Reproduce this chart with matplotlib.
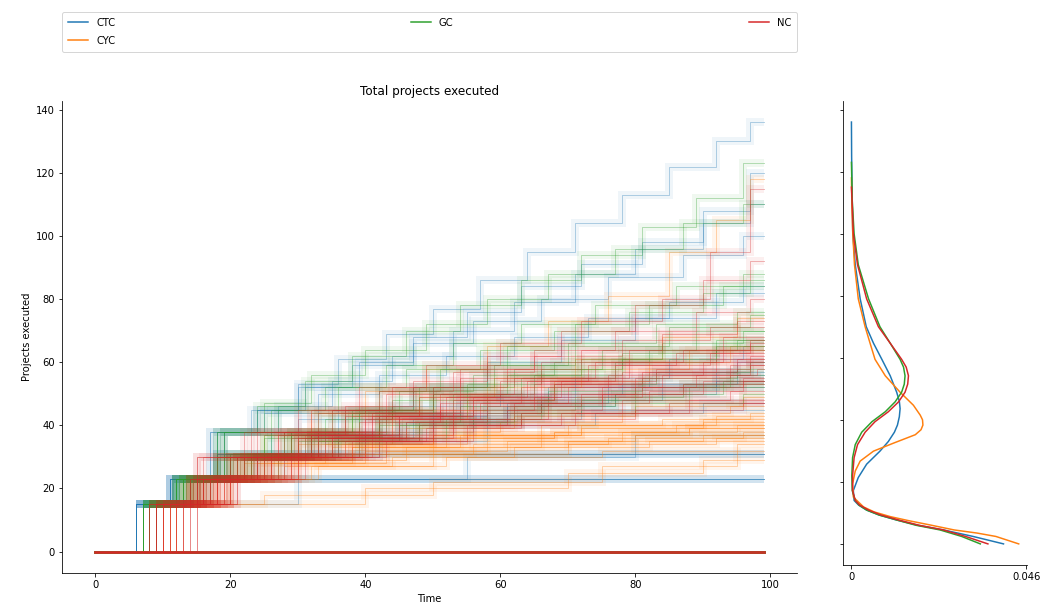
import matplotlib.pyplot as plt
import numpy as np

# one run = list of (time, projects executed after that step); runs start at 0 at t=0
t_end = 99

ctc_runs = [
    [(6, 15), (11, 23)],
    [(6, 15), (11, 23)],
    [(6, 15), (11, 23)],
    [(7, 15), (12, 23), (19, 31)],
    [(6, 15), (12, 23), (18, 31)],
    [(6, 15), (12, 23), (18, 31)],
    [(6, 15), (11, 23), (18, 38), (24, 45), (30, 53), (36, 61), (43, 69), (50, 77), (57, 86), (64, 95), (71, 104), (78, 113), (85, 122), (92, 130), (97, 136)],
    [(7, 15), (12, 23), (19, 38), (27, 46), (35, 54), (44, 62), (53, 70), (62, 79), (71, 88), (80, 96), (90, 104), (97, 110)],
    [(6, 15), (12, 23), (18, 31), (26, 38), (36, 45), (47, 52), (58, 60), (69, 67), (80, 74), (92, 82)],
    [(8, 15), (14, 23), (22, 30), (33, 37), (45, 43), (58, 49), (71, 55), (85, 61), (96, 65)],
    [(7, 15), (13, 23), (21, 30), (32, 36), (46, 41), (61, 46), (77, 50), (92, 54)],
    [(9, 15), (17, 23), (28, 30), (42, 35), (58, 40), (74, 44), (90, 47)],
    [(6, 15), (12, 23), (19, 38), (30, 42), (44, 46), (60, 50), (78, 53), (95, 56)],
    [(8, 15), (30, 23), (55, 30), (80, 37)],
    [(7, 15), (14, 23), (24, 30), (36, 38), (50, 44), (66, 48), (84, 52)],
    [(6, 15), (11, 23), (17, 38), (23, 45), (30, 52), (38, 59), (47, 66), (56, 73), (66, 80), (76, 87), (87, 94), (96, 100)],
    [(8, 15), (16, 23), (26, 31), (40, 38), (56, 42), (72, 45)],
    [(7, 15), (13, 23), (20, 30), (30, 37), (42, 43), (54, 48), (67, 52), (82, 57), (95, 60)],
    [(6, 15), (11, 23), (17, 38), (25, 44), (33, 50), (42, 56), (52, 62), (62, 68), (73, 74), (85, 79), (96, 84)],
    [(7, 15), (12, 23), (18, 38), (24, 45), (31, 52), (39, 60), (47, 68), (55, 76), (63, 84), (72, 91), (81, 98), (90, 108), (97, 120)],
    [(8, 15), (15, 23), (23, 30), (34, 36), (47, 42), (61, 47), (76, 52), (92, 57)],
    [], [], [], [], [],
]

cyc_runs = [
    [(9, 15), (14, 23), (22, 30), (34, 34), (50, 37), (70, 40), (90, 42)],
    [(10, 15), (16, 23), (26, 28), (40, 32), (58, 35), (78, 38), (95, 40)],
    [(8, 15), (13, 23), (20, 30), (30, 34), (44, 38), (60, 41), (78, 44), (94, 46)],
    [(11, 15), (40, 20), (70, 25), (90, 29)],
    [(9, 15), (15, 23), (24, 28), (38, 31), (56, 34), (76, 36), (96, 38)],
    [(12, 15), (18, 23), (28, 27), (44, 30), (62, 33), (82, 35)],
    [(8, 15), (14, 23), (21, 30), (30, 36), (42, 42), (55, 48), (68, 54), (82, 60), (94, 65)],
    [(10, 15), (17, 23), (27, 30), (40, 34), (55, 37), (72, 39), (90, 41)],
    [(9, 15), (15, 23), (23, 30), (33, 35), (46, 39), (62, 43), (80, 46), (96, 49)],
    [(8, 15), (13, 23), (19, 30), (25, 37), (32, 44), (40, 51), (49, 58), (58, 65), (67, 73), (76, 81), (85, 95), (92, 105), (97, 118)],
    [(13, 15), (20, 23), (32, 27), (50, 31), (70, 34), (92, 36)],
    [(11, 15), (18, 23), (30, 29), (46, 33), (66, 37), (88, 39)],
    [(9, 15), (16, 23), (25, 30), (38, 33), (52, 36), (68, 38), (86, 40)],
    [(10, 15), (25, 18), (50, 22), (75, 27), (95, 32)],
    [(8, 15), (14, 23), (22, 30), (32, 38), (44, 45), (58, 52), (72, 58), (88, 64)],
    [(12, 15), (19, 23), (29, 28), (43, 32), (61, 35), (80, 37)],
    [(9, 15), (15, 23), (23, 30), (35, 33), (50, 36), (68, 38), (88, 39)],
    [(10, 15), (16, 23), (25, 29), (38, 33), (54, 37), (72, 40), (92, 43)],
    [(11, 15), (17, 23), (26, 30), (37, 34), (50, 37), (66, 40), (84, 42), (97, 44)],
    [(8, 15), (14, 23), (22, 28), (34, 31), (50, 33), (70, 35), (90, 37)],
    [(12, 15), (20, 23), (33, 27), (52, 30), (75, 32), (95, 34)],
    [(9, 15), (14, 23), (21, 30), (29, 37), (38, 43), (48, 49), (59, 55), (71, 61), (84, 68), (95, 74)],
    [], [], [], [], [],
]

gc_runs = [
    [(7, 15), (12, 23), (18, 30), (25, 36), (34, 42), (44, 48), (55, 53), (66, 58), (78, 63), (92, 67)],
    [(8, 15), (14, 23), (21, 30), (29, 37), (39, 44), (50, 50), (61, 56), (72, 61), (84, 66), (96, 70)],
    [(7, 15), (13, 23), (19, 38), (27, 45), (36, 52), (46, 58), (57, 64), (68, 70), (79, 76), (90, 82), (97, 86)],
    [(8, 15), (15, 23), (23, 30), (33, 35), (45, 40), (58, 44), (72, 48), (88, 52)],
    [(7, 15), (12, 23), (18, 30), (26, 38), (35, 45), (45, 51), (56, 56), (68, 60), (82, 64), (95, 67)],
    [(9, 15), (16, 23), (25, 30), (36, 36), (48, 41), (62, 46), (77, 50), (93, 54)],
    [(7, 15), (12, 23), (18, 38), (24, 46), (31, 54), (38, 62), (46, 70), (54, 78), (63, 86), (72, 94), (81, 103), (89, 112), (96, 123)],
    [(8, 15), (14, 23), (22, 30), (32, 37), (43, 43), (55, 48), (68, 53), (83, 57), (97, 60)],
    [(7, 15), (13, 23), (20, 31), (29, 38), (39, 45), (50, 52), (62, 58), (75, 64), (89, 70)],
    [(8, 15), (15, 23), (24, 30), (35, 35), (48, 40), (63, 44), (80, 47), (96, 50)],
    [(9, 15), (17, 23), (27, 30), (39, 36), (52, 42), (66, 47), (80, 52), (94, 56)],
    [(7, 15), (12, 23), (18, 30), (25, 37), (33, 44), (42, 51), (51, 58), (61, 65), (71, 72), (82, 78), (93, 84)],
    [(8, 15), (14, 23), (22, 30), (31, 36), (42, 41), (54, 46), (67, 51), (81, 55), (95, 58)],
    [(7, 15), (13, 23), (20, 30), (30, 35), (42, 40), (56, 45), (71, 49), (87, 53)],
    [(7, 15), (12, 23), (19, 38), (26, 45), (34, 52), (43, 59), (53, 66), (63, 72), (74, 78), (86, 84), (96, 88)],
    [(8, 15), (13, 23), (20, 30), (28, 38), (37, 45), (47, 52), (58, 59), (70, 66), (83, 72), (95, 76)],
    [(7, 15), (12, 23), (18, 38), (25, 47), (32, 56), (40, 64), (49, 72), (58, 80), (67, 88), (77, 96), (87, 104), (96, 110)],
    [(9, 15), (15, 23), (23, 30), (32, 37), (42, 44), (53, 50), (65, 56), (78, 61), (92, 65)],
    [(8, 15), (14, 23), (21, 30), (29, 38), (38, 45), (48, 52), (59, 59), (71, 65), (85, 71), (97, 75)],
    [(7, 15), (13, 23), (20, 31), (28, 38), (38, 44), (50, 50), (63, 55), (77, 60), (92, 64)],
    [], [], [], [], [],
]

nc_runs = [
    [(8, 15), (15, 23), (22, 30), (30, 36), (40, 42), (51, 47), (63, 52), (76, 56), (90, 60)],
    [(9, 15), (16, 23), (23, 30), (32, 37), (42, 43), (53, 48), (65, 53), (78, 57), (92, 61)],
    [(10, 15), (17, 23), (25, 30), (34, 36), (45, 42), (57, 47), (70, 52), (84, 56), (97, 59)],
    [(11, 15), (18, 23), (26, 30), (36, 35), (48, 40), (61, 45), (75, 50), (90, 54)],
    [(12, 15), (18, 30), (27, 37), (37, 43), (48, 49), (60, 54), (73, 59), (86, 63), (97, 66)],
    [(13, 15), (19, 23), (28, 30), (38, 35), (50, 40), (63, 44), (78, 48), (94, 51)],
    [(14, 15), (20, 23), (30, 30), (42, 35), (55, 40), (69, 44), (85, 47)],
    [(15, 15), (21, 30), (30, 38), (40, 45), (50, 52), (61, 58), (72, 64), (84, 69), (95, 73)],
    [(9, 15), (15, 30), (23, 38), (32, 45), (42, 51), (53, 57), (65, 62), (78, 67), (91, 71)],
    [(10, 15), (16, 23), (24, 30), (33, 38), (43, 44), (54, 50), (66, 55), (79, 60), (93, 64)],
    [(8, 15), (14, 23), (20, 30), (28, 38), (37, 46), (47, 54), (58, 62), (69, 70), (80, 78), (90, 86), (97, 92)],
    [(11, 15), (17, 23), (25, 30), (35, 36), (46, 41), (58, 46), (72, 50), (87, 53)],
    [(12, 15), (19, 23), (29, 30), (40, 36), (53, 42), (67, 47), (82, 51), (96, 55)],
    [(9, 15), (15, 30), (22, 38), (30, 45), (39, 52), (49, 59), (60, 66), (72, 73), (84, 80), (91, 95), (97, 115)],
    [(13, 15), (20, 23), (30, 30), (41, 37), (53, 44), (66, 50), (80, 55), (94, 59)],
    [(10, 15), (16, 23), (24, 30), (33, 37), (44, 43), (56, 49), (69, 54), (83, 58), (97, 62)],
    [(8, 15), (14, 23), (21, 30), (29, 36), (39, 41), (51, 45), (65, 49), (81, 52), (96, 54)],
    [(11, 15), (17, 23), (24, 30), (32, 37), (41, 44), (51, 50), (62, 55), (74, 60), (87, 64), (97, 67)],
    [(9, 15), (15, 23), (22, 30), (31, 37), (41, 43), (52, 49), (64, 54), (77, 59), (91, 63)],
    [(12, 15), (18, 23), (27, 30), (37, 35), (49, 39), (63, 42), (80, 45), (96, 47)],
    [(10, 15), (16, 30), (24, 38), (33, 44), (43, 50), (54, 55), (66, 60), (79, 64), (93, 68)],
    [(14, 15), (20, 23), (29, 30), (39, 36), (50, 42), (62, 47), (75, 52), (89, 56), (98, 58)],
    [(13, 15), (18, 23), (26, 30), (35, 37), (45, 43), (56, 48), (68, 53), (81, 57), (95, 61)],
    [(9, 15), (14, 23), (20, 30), (27, 38), (35, 45), (44, 52), (54, 58), (65, 64), (77, 70), (89, 76), (97, 80)],
    [(15, 15), (21, 23), (31, 30), (43, 35), (56, 40), (71, 44), (88, 48)],
    [], [], [], [], [],
]

# density of the final count (x 1e-3)
ctc_kde_y = [0, 2.4, 4.5, 6, 7.7, 9.3, 10.9, 12.5, 14, 17.2, 21.4, 25.7, 29.9, 33, 36, 38.3, 41, 43.6, 46, 48.9, 54.2, 59.5, 64.7, 70, 79, 90, 100, 111, 125, 136]
ctc_kde_d = [40.0, 32.0, 24.2, 17.5, 11.9, 7.3, 4.0, 1.9, 0.7, 0.5, 1.8, 4.0, 7.5, 9.7, 11.3, 12.1, 12.6, 12.8, 12.6, 11.9, 10.2, 8.0, 5.8, 3.9, 2.3, 1.0, 0.35, 0.2, 0.05, 0.0]

cyc_kde_y = [0, 2.4, 3.5, 4.5, 6.1, 7.5, 8.8, 10.3, 11.9, 15.1, 19.3, 23.5, 26.7, 29.9, 32.5, 35.2, 36.8, 38.3, 40, 41.5, 44.7, 48.9, 54.2, 59.5, 64.7, 70, 79, 90, 100, 110, 118]
cyc_kde_d = [44.0, 38.0, 33.0, 27.0, 20.7, 15.0, 10.2, 6.0, 3.2, 0.5, 0.3, 1.0, 2.3, 5.8, 11.1, 16.8, 18.3, 18.8, 18.7, 18.1, 16.3, 12.8, 8.9, 6.2, 4.9, 3.6, 1.8, 0.8, 0.35, 0.1, 0.0]

gc_kde_y = [0, 2.4, 4.5, 6, 7.7, 9.3, 10.9, 12.5, 14, 17.2, 22, 27.8, 32, 36, 39.4, 42.6, 45.8, 48.9, 51.5, 54.2, 57, 59.5, 64.7, 70, 79, 90, 100, 111, 123]
gc_kde_d = [33.9, 29.0, 23.3, 17.0, 11.9, 7.3, 4.0, 2.0, 1.0, 0.2, 0.1, 0.3, 1.0, 2.7, 5.4, 8.9, 11.5, 13.2, 13.9, 14.1, 13.7, 12.8, 10.2, 7.5, 4.5, 1.8, 0.7, 0.2, 0.0]

nc_kde_y = [0, 2.4, 4.5, 6, 7.7, 9.3, 10.9, 12.5, 14, 17.2, 22, 27.8, 32, 36, 39.4, 42.6, 45.8, 48.9, 51.5, 54.2, 57, 59.5, 64.7, 70, 79, 90, 100, 111, 115]
nc_kde_d = [35.9, 30.0, 24.2, 17.8, 12.4, 7.8, 4.5, 2.2, 1.0, 0.3, 0.3, 0.7, 1.6, 3.6, 6.2, 9.7, 12.4, 14.1, 14.8, 15.0, 14.4, 13.2, 10.2, 7.1, 4.0, 1.6, 0.5, 0.15, 0.0]

names = ["CTC", "CYC", "GC", "NC"]
colors = ["#1f77b4", "#ff7f0e", "#2ca02c", "#d62728"]
all_runs = [ctc_runs, cyc_runs, gc_runs, nc_runs]
kdes = [(ctc_kde_y, ctc_kde_d), (cyc_kde_y, cyc_kde_d), (gc_kde_y, gc_kde_d), (nc_kde_y, nc_kde_d)]

fig = plt.figure(figsize=(1046 / 72, 610 / 72), dpi=72)
ax = fig.add_axes([0.0593, 0.0607, 0.7027, 0.7738])
ax2 = fig.add_axes([0.806, 0.0738, 0.1759, 0.7607])

for runs, c in zip(all_runs, colors):
    for run in runs:
        xs = [0] + [p[0] for p in run] + [t_end]
        ys = [0] + [p[1] for p in run]
        ys = ys + [ys[-1]]
        if run:
            # faint wash under the run (after its first step) for the smeared look of many runs
            ax.plot(xs[1:], ys[1:], drawstyle="steps-post", color=c, lw=8, alpha=0.07,
                    solid_capstyle="butt", solid_joinstyle="miter")
            ax.plot(xs, ys, drawstyle="steps-post", color=c, lw=1.0, alpha=0.32)
        else:
            ax.plot(xs, ys, color=c, lw=2.5, alpha=0.35)

ax.set_title("Total projects executed", fontsize=12)
ax.set_xlabel("Time")
ax.set_ylabel("Projects executed")
ax.spines["top"].set_visible(False)
ax.spines["right"].set_visible(False)

handles = [ax.plot([], [], color=c, lw=1.5)[0] for c in colors]
ax.legend(handles, names, loc="lower left", bbox_to_anchor=(0, 1.104, 1, 0.08),
          mode="expand", ncol=3, borderaxespad=0, fontsize=10, labelspacing=0.8,
          borderpad=0.6)

for (ky, kd), c in zip(kdes, colors):
    ax2.plot(np.array(kd) / 1000, ky, color=c, lw=1.5)

ax2.set_yticks(ax.get_yticks())
ax2.set_ylim(ax.get_ylim())
ax2.set_yticklabels([])
ax2.set_xlim(-0.0022, 0.0462)
ax2.set_xticks([0, 0.046])
ax2.set_xticklabels(["0", "0.046"])
ax2.spines["top"].set_visible(False)
ax2.spines["right"].set_visible(False)

fig.savefig("out.png", dpi=72)
